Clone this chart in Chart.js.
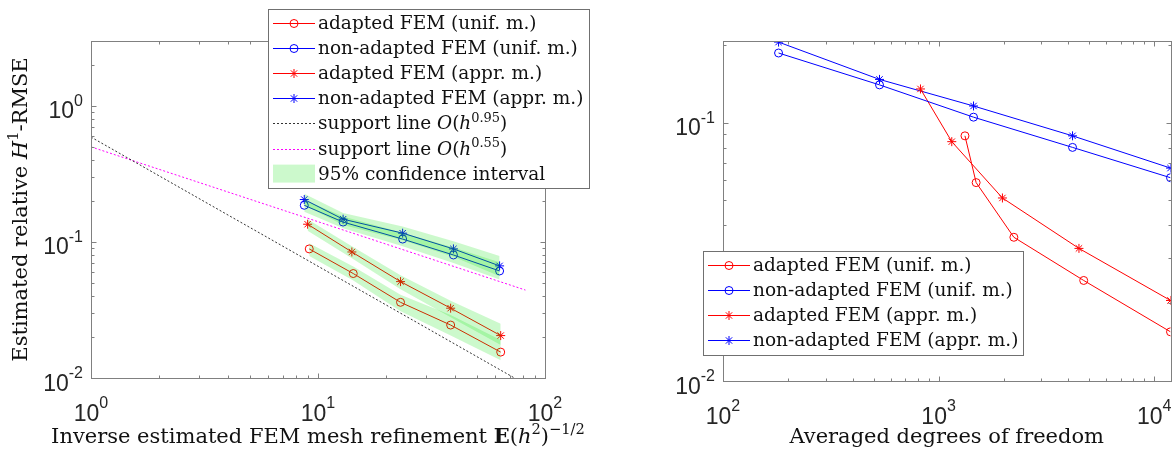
<!DOCTYPE html>
<html>
<head>
<meta charset="utf-8">
<script src="https://cdn.jsdelivr.net/npm/chart.js@4/dist/chart.umd.min.js"></script>
<style>
    html, body { margin: 0; padding: 0; background: #fff; overflow: hidden; }
    #wrap { position: relative; width: 1176px; height: 451px; }
    #leftChart { position: absolute; left: 0; top: 0; }
    #rightChart { position: absolute; left: 600px; top: 0; }
</style>
</head>
<body>
<div id="wrap">
    <canvas id="leftChart" width="600" height="451"></canvas>
    <canvas id="rightChart" width="576" height="451"></canvas>
</div>
<script>
// Inverse estimated mesh refinement E(h^2)^(-1/2) per refinement level
const hInvAdaptUnif = [9.15, 14.3, 23.1, 38.4, 63.8];
const hInvAdaptAppr = [9.0, 14.1, 23.1, 38.4, 63.8];
const hInvNonAdapt = [8.7, 12.9, 23.6, 39.5, 63.1];

// Averaged degrees of freedom per refinement level
const dofAdaptUnif = [1325, 1493, 2234, 4710, 11900];
const dofAdaptAppr = [824, 1151, 1977, 4477, 11900];
const dofNonAdapt = [181, 532, 1452, 4180, 11900];

// Estimated relative H1-RMSE
const errAdaptUnif = [0.0889, 0.0586, 0.0360, 0.0245, 0.0155];
const errNonAdaptUnif = [0.186, 0.140, 0.105, 0.0802, 0.0612];
const errAdaptAppr = [0.135, 0.0844, 0.0511, 0.0326, 0.0205];
const errNonAdaptAppr = [0.205, 0.147, 0.116, 0.0889, 0.0667];

// 95% confidence bands (left plot only)
const ciAdaptUnifHi = [0.098, 0.066, 0.041, 0.029, 0.019];
const ciAdaptUnifLo = [0.079, 0.052, 0.031, 0.0205, 0.0135];
const ciNonAdaptUnifHi = [0.204, 0.154, 0.117, 0.091, 0.071];
const ciNonAdaptUnifLo = [0.167, 0.126, 0.093, 0.070, 0.053];
const ciAdaptApprHi = [0.147, 0.093, 0.057, 0.037, 0.025];
const ciAdaptApprLo = [0.121, 0.076, 0.045, 0.028, 0.0175];
const ciNonAdaptApprHi = [0.226, 0.163, 0.130, 0.101, 0.079];
const ciNonAdaptApprLo = [0.186, 0.133, 0.103, 0.078, 0.056];

// support lines (end points)
const supportX = [1, 82];
const support095 = [0.59, 0.009];
const support055 = [0.5, 0.0443];

// axis ranges
const leftXRange = [1, 100];
const leftYRange = [0.01, 3];
const rightXRange = [100, 11900];
const rightYRange = [0.01, 0.207];

// tick values (major ones get a 10^k label)
const leftXMajor = [1, 10, 100];
const leftXMinor = [2, 3, 4, 5, 6, 7, 8, 9, 20, 30, 40, 50, 60, 70, 80, 90];
const leftYMajor = [0.01, 0.1, 1];
const leftYMinor = [0.02, 0.03, 0.04, 0.05, 0.06, 0.07, 0.08, 0.09, 0.2, 0.3, 0.4, 0.5, 0.6, 0.7, 0.8, 0.9, 2, 3];
const rightXMajor = [100, 1000, 10000];
const rightXMinor = [200, 300, 400, 500, 600, 700, 800, 900, 2000, 3000, 4000, 5000, 6000, 7000, 8000, 9000];
const rightYMajor = [0.01, 0.1];
const rightYMinor = [0.02, 0.03, 0.04, 0.05, 0.06, 0.07, 0.08, 0.09, 0.2];

const RED = 'rgb(255, 0, 0)';
const BLUE = 'rgb(0, 0, 255)';
const BAND = 'rgba(0, 225, 0, 0.2)';
const AXIS = '#808080';
const TEXT = '#262626';
const serif = '"DejaVu Serif", "Liberation Serif", serif';
const sans = '"Liberation Sans", Arial, sans-serif';

const pts = (xs, ys) => xs.map((x, i) => ({ x: x, y: ys[i] }));

function series(label, data, color, style) {
    return {
        label: label,
        data: data,
        showLine: true,
        borderColor: color,
        borderWidth: 1,
        pointStyle: style,
        pointRadius: style === 'star' ? 4.5 : 4,
        pointBorderColor: color,
        pointBackgroundColor: 'rgba(0,0,0,0)',
        pointBorderWidth: 1,
        fill: false,
        order: 2
    };
}

function dotted(label, data, color) {
    return {
        label: label,
        data: data,
        showLine: true,
        borderColor: color,
        borderWidth: 1,
        borderDash: [2, 2],
        pointRadius: 0,
        fill: false,
        order: 3
    };
}

// upper edge + lower edge filled to the previous dataset
function band(hi, lo) {
    return [
        { label: 'ci', data: hi, showLine: true, borderWidth: 0, pointRadius: 0, fill: false, order: 0 },
        { label: 'ci', data: lo, showLine: true, borderWidth: 0, pointRadius: 0, fill: '-1', backgroundColor: BAND, order: 0 }
    ];
}

// Rich text helpers (italic, bold, superscript parts)
function partFont(p, size) {
    const s = p.sup ? size * 0.7 : size;
    return (p.i ? 'italic ' : '') + (p.b ? 'bold ' : '') + s + 'px ' + serif;
}

function richWidth(ctx, parts, size) {
    let w = 0;
    parts.forEach(p => { ctx.font = partFont(p, size); w += ctx.measureText(p.t).width; });
    return w;
}

function drawRich(ctx, parts, x, y, size, align) {
    const w = richWidth(ctx, parts, size);
    let cx = align === 'center' ? x - w / 2 : (align === 'right' ? x - w : x);
    ctx.textAlign = 'left';
    ctx.textBaseline = 'alphabetic';
    parts.forEach(p => {
        ctx.font = partFont(p, size);
        ctx.fillText(p.t, cx, p.sup ? y - size * 0.42 : y);
        cx += ctx.measureText(p.t).width;
    });
}

function powLabel(ctx, exp, x, y, align) {
    ctx.textAlign = 'left';
    ctx.textBaseline = 'alphabetic';
    ctx.font = '23px ' + sans;
    const w1 = ctx.measureText('10').width;
    ctx.font = '16px ' + sans;
    const w2 = ctx.measureText(exp).width;
    const start = align === 'right' ? x - w1 - w2 : x - (w1 + w2) / 2;
    ctx.font = '23px ' + sans;
    ctx.fillText('10', start, y);
    ctx.font = '16px ' + sans;
    ctx.fillText(exp, start + w1, y - 12.5);
}

function drawMarker(ctx, style, color, x, y) {
    ctx.strokeStyle = color;
    ctx.fillStyle = 'rgba(0,0,0,0)';
    ctx.lineWidth = 1;
    Chart.helpers.drawPoint(ctx, { pointStyle: style, radius: style === 'star' ? 4.5 : 4, borderWidth: 1, rotation: 0 }, x, y);
}

function drawLegend(ctx, lg) {
    ctx.save();
    ctx.fillStyle = '#fff';
    ctx.fillRect(lg.x, lg.y, lg.w, lg.h);
    ctx.strokeStyle = '#707070';
    ctx.lineWidth = 1;
    ctx.strokeRect(lg.x + 0.5, lg.y + 0.5, lg.w, lg.h);
    lg.items.forEach((it, i) => {
        const cy = lg.y + lg.first + i * lg.step;
        const x0 = lg.x + 5, x1 = lg.x + 47, xm = lg.x + 26;
        if (it.kind === 'band') {
            ctx.fillStyle = BAND;
            ctx.fillRect(x0, cy - 9, x1 - x0, 18);
        } else {
            ctx.strokeStyle = it.color;
            ctx.lineWidth = 1;
            ctx.setLineDash(it.kind === 'dotted' ? [2, 2] : []);
            ctx.beginPath();
            ctx.moveTo(x0, Math.round(cy) + 0.5);
            ctx.lineTo(x1, Math.round(cy) + 0.5);
            ctx.stroke();
            ctx.setLineDash([]);
            if (it.marker) drawMarker(ctx, it.marker, it.color, xm, Math.round(cy) + 0.5);
        }
        ctx.fillStyle = '#111';
        drawRich(ctx, it.parts, lg.x + 50, cy + 6, 18.5, 'left');
    });
    ctx.restore();
}

// Draws the MATLAB-like box, inward ticks, 10^k labels, axis titles and legend
function frameOverlay(cfg) {
    return {
        id: 'frameOverlay',
        afterDraw(chart) {
            const ctx = chart.ctx;
            const a = chart.chartArea;
            const x = chart.scales.x, y = chart.scales.y;
            const L = Math.round(a.left) + 0.5, R = Math.round(a.right) + 0.5;
            const T = Math.round(a.top) + 0.5, B = Math.round(a.bottom) + 0.5;
            ctx.save();
            ctx.strokeStyle = AXIS;
            ctx.lineWidth = 1;
            ctx.beginPath();
            const xTick = (v, len) => {
                const px = Math.round(x.getPixelForValue(v)) + 0.5;
                ctx.moveTo(px, B); ctx.lineTo(px, B - len);
                ctx.moveTo(px, T); ctx.lineTo(px, T + len);
            };
            const yTick = (v, len) => {
                const py = Math.round(y.getPixelForValue(v)) + 0.5;
                ctx.moveTo(L, py); ctx.lineTo(L + len, py);
                ctx.moveTo(R, py); ctx.lineTo(R - len, py);
            };
            cfg.xMinor.forEach(v => xTick(v, 3));
            cfg.xMajor.forEach(v => xTick(v, 5));
            cfg.yMinor.forEach(v => yTick(v, 3));
            cfg.yMajor.forEach(v => yTick(v, 5));
            ctx.stroke();
            ctx.strokeRect(L, T, R - L, B - T);

            ctx.fillStyle = TEXT;
            cfg.xMajor.forEach(v => {
                powLabel(ctx, String(Math.round(Math.log10(v))), x.getPixelForValue(v), a.bottom + 42.5, 'center');
            });
            cfg.yMajor.forEach(v => {
                powLabel(ctx, String(Math.round(Math.log10(v))), a.left - 8, y.getPixelForValue(v) + 12.5, 'right');
            });

            ctx.fillStyle = '#111';
            drawRich(ctx, cfg.xTitle, (a.left + a.right) / 2, 443, 21, 'center');
            ctx.save();
            ctx.translate(cfg.yTitleX, (a.top + a.bottom) / 2);
            ctx.rotate(-Math.PI / 2);
            drawRich(ctx, cfg.yTitle, 0, 0, 21, 'center');
            ctx.restore();

            if (cfg.legend) drawLegend(ctx, cfg.legend);
            ctx.restore();
        }
    };
}

const yTitleParts = [{ t: 'Estimated relative ' }, { t: 'H', i: true }, { t: '1', sup: true }, { t: '-RMSE' }];
const legendSeries = [
    { parts: [{ t: 'adapted FEM (unif. m.)' }], color: RED, marker: 'circle', kind: 'line' },
    { parts: [{ t: 'non-adapted FEM (unif. m.)' }], color: BLUE, marker: 'circle', kind: 'line' },
    { parts: [{ t: 'adapted FEM (appr. m.)' }], color: RED, marker: 'star', kind: 'line' },
    { parts: [{ t: 'non-adapted FEM (appr. m.)' }], color: BLUE, marker: 'star', kind: 'line' }
];
const legendExtra = [
    { parts: [{ t: 'support line ' }, { t: 'O', i: true }, { t: '(' }, { t: 'h', i: true }, { t: '0.95', sup: true }, { t: ')' }], color: 'rgba(0,0,0,0.8)', kind: 'dotted' },
    { parts: [{ t: 'support line ' }, { t: 'O', i: true }, { t: '(' }, { t: 'h', i: true }, { t: '0.55', sup: true }, { t: ')' }], color: 'rgb(255,0,255)', kind: 'dotted' },
    { parts: [{ t: '95% confidence interval' }], kind: 'band' }
];

function baseOptions(xr, yr, pad) {
    return {
        responsive: false,
        animation: false,
        layout: { padding: pad },
        plugins: { legend: { display: false }, tooltip: { enabled: false } },
        scales: {
            x: { type: 'logarithmic', min: xr[0], max: xr[1], bounds: 'data', display: false },
            y: { type: 'logarithmic', min: yr[0], max: yr[1], bounds: 'data', display: false }
        }
    };
}

new Chart(document.getElementById('leftChart'), {
    type: 'scatter',
    data: {
        datasets: [
            series('adapted FEM (unif. m.)', pts(hInvAdaptUnif, errAdaptUnif), RED, 'circle'),
            series('non-adapted FEM (unif. m.)', pts(hInvNonAdapt, errNonAdaptUnif), BLUE, 'circle'),
            series('adapted FEM (appr. m.)', pts(hInvAdaptAppr, errAdaptAppr), RED, 'star'),
            series('non-adapted FEM (appr. m.)', pts(hInvNonAdapt, errNonAdaptAppr), BLUE, 'star'),
            dotted('support line O(h^0.95)', pts(supportX, support095), 'rgba(0,0,0,0.8)'),
            dotted('support line O(h^0.55)', pts(supportX, support055), 'rgb(255,0,255)'),
            ...band(pts(hInvAdaptUnif, ciAdaptUnifHi), pts(hInvAdaptUnif, ciAdaptUnifLo)),
            ...band(pts(hInvNonAdapt, ciNonAdaptUnifHi), pts(hInvNonAdapt, ciNonAdaptUnifLo)),
            ...band(pts(hInvAdaptAppr, ciAdaptApprHi), pts(hInvAdaptAppr, ciAdaptApprLo)),
            ...band(pts(hInvNonAdapt, ciNonAdaptApprHi), pts(hInvNonAdapt, ciNonAdaptApprLo))
        ]
    },
    options: baseOptions(leftXRange, leftYRange, { left: 91, right: 55, top: 41, bottom: 73 }),
    plugins: [frameOverlay({
        xMajor: leftXMajor, xMinor: leftXMinor, yMajor: leftYMajor, yMinor: leftYMinor,
        xTitle: [{ t: 'Inverse estimated FEM mesh refinement ' }, { t: 'E', b: true }, { t: '(' }, { t: 'h', i: true }, { t: '2', sup: true }, { t: ')' }, { t: '\u22121/2', sup: true }],
        yTitle: yTitleParts,
        yTitleX: 27,
        legend: { x: 268, y: 9, w: 321, h: 179, first: 14, step: 25.1, items: legendSeries.concat(legendExtra) }
    })]
});

new Chart(document.getElementById('rightChart'), {
    type: 'scatter',
    data: {
        datasets: [
            series('adapted FEM (unif. m.)', pts(dofAdaptUnif, errAdaptUnif), RED, 'circle'),
            series('non-adapted FEM (unif. m.)', pts(dofNonAdapt, errNonAdaptUnif), BLUE, 'circle'),
            series('adapted FEM (appr. m.)', pts(dofAdaptAppr, errAdaptAppr), RED, 'star'),
            series('non-adapted FEM (appr. m.)', pts(dofNonAdapt, errNonAdaptAppr), BLUE, 'star')
        ]
    },
    options: baseOptions(rightXRange, rightYRange, { left: 123, right: 1, top: 41, bottom: 70 }),
    plugins: [frameOverlay({
        xMajor: rightXMajor, xMinor: rightXMinor, yMajor: rightYMajor, yMinor: rightYMinor,
        xTitle: [{ t: 'Averaged degrees of freedom' }],
        yTitle: yTitleParts,
        yTitleX: 659,
        legend: { x: 103, y: 251, w: 320, h: 104, first: 14, step: 25, items: legendSeries }
    })]
});
</script>
</body>
</html>
